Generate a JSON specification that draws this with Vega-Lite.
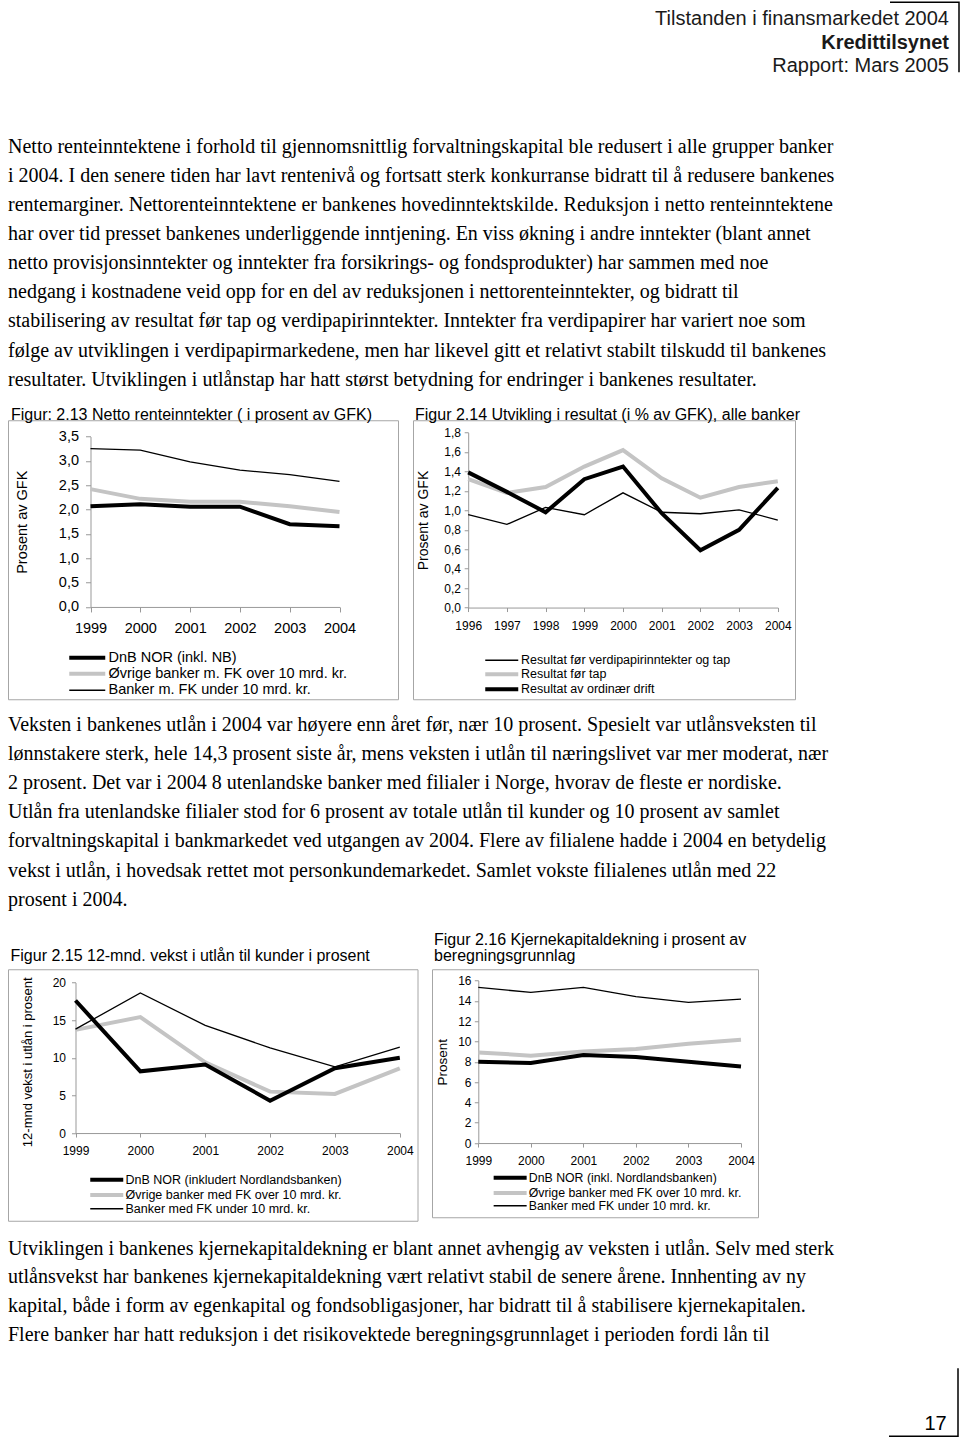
{
  "$schema": "https://vega.github.io/schema/vega-lite/v6.json",
  "padding": {"left": 7, "top": 1.25, "right": 0, "bottom": 0},
  "background": "white",
  "spacing": 0,
  "resolve": {"scale": {"color": "independent", "stroke": "independent"}},
  "datasets": {
    "f213": [
      {"year": "1999", "series": "Øvrige banker m. FK over 10 mrd. kr.", "value": 2.42},
      {"year": "2000", "series": "Øvrige banker m. FK over 10 mrd. kr.", "value": 2.22},
      {"year": "2001", "series": "Øvrige banker m. FK over 10 mrd. kr.", "value": 2.16},
      {"year": "2002", "series": "Øvrige banker m. FK over 10 mrd. kr.", "value": 2.16},
      {"year": "2003", "series": "Øvrige banker m. FK over 10 mrd. kr.", "value": 2.07},
      {"year": "2004", "series": "Øvrige banker m. FK over 10 mrd. kr.", "value": 1.95},
      {"year": "1999", "series": "Banker m. FK under 10 mrd. kr.", "value": 3.25},
      {"year": "2000", "series": "Banker m. FK under 10 mrd. kr.", "value": 3.22},
      {"year": "2001", "series": "Banker m. FK under 10 mrd. kr.", "value": 2.98},
      {"year": "2002", "series": "Banker m. FK under 10 mrd. kr.", "value": 2.81},
      {"year": "2003", "series": "Banker m. FK under 10 mrd. kr.", "value": 2.72},
      {"year": "2004", "series": "Banker m. FK under 10 mrd. kr.", "value": 2.58},
      {"year": "1999", "series": "DnB NOR (inkl. NB)", "value": 2.07},
      {"year": "2000", "series": "DnB NOR (inkl. NB)", "value": 2.11},
      {"year": "2001", "series": "DnB NOR (inkl. NB)", "value": 2.06},
      {"year": "2002", "series": "DnB NOR (inkl. NB)", "value": 2.06},
      {"year": "2003", "series": "DnB NOR (inkl. NB)", "value": 1.70},
      {"year": "2004", "series": "DnB NOR (inkl. NB)", "value": 1.66}
    ],
    "f214": [
      {"year": "1996", "series": "Resultat før tap", "value": 1.32},
      {"year": "1997", "series": "Resultat før tap", "value": 1.18},
      {"year": "1998", "series": "Resultat før tap", "value": 1.24},
      {"year": "1999", "series": "Resultat før tap", "value": 1.45},
      {"year": "2000", "series": "Resultat før tap", "value": 1.62},
      {"year": "2001", "series": "Resultat før tap", "value": 1.33},
      {"year": "2002", "series": "Resultat før tap", "value": 1.13},
      {"year": "2003", "series": "Resultat før tap", "value": 1.24},
      {"year": "2004", "series": "Resultat før tap", "value": 1.30},
      {"year": "1996", "series": "Resultat av ordinær drift", "value": 1.39},
      {"year": "1997", "series": "Resultat av ordinær drift", "value": 1.19},
      {"year": "1998", "series": "Resultat av ordinær drift", "value": 0.98},
      {"year": "1999", "series": "Resultat av ordinær drift", "value": 1.32},
      {"year": "2000", "series": "Resultat av ordinær drift", "value": 1.45},
      {"year": "2001", "series": "Resultat av ordinær drift", "value": 0.97},
      {"year": "2002", "series": "Resultat av ordinær drift", "value": 0.59},
      {"year": "2003", "series": "Resultat av ordinær drift", "value": 0.80},
      {"year": "2004", "series": "Resultat av ordinær drift", "value": 1.23},
      {"year": "1996", "series": "Resultat før verdipapirinntekter og tap", "value": 0.955},
      {"year": "1997", "series": "Resultat før verdipapirinntekter og tap", "value": 0.855},
      {"year": "1998", "series": "Resultat før verdipapirinntekter og tap", "value": 1.03},
      {"year": "1999", "series": "Resultat før verdipapirinntekter og tap", "value": 0.955},
      {"year": "2000", "series": "Resultat før verdipapirinntekter og tap", "value": 1.18},
      {"year": "2001", "series": "Resultat før verdipapirinntekter og tap", "value": 0.98},
      {"year": "2002", "series": "Resultat før verdipapirinntekter og tap", "value": 0.965},
      {"year": "2003", "series": "Resultat før verdipapirinntekter og tap", "value": 1.005},
      {"year": "2004", "series": "Resultat før verdipapirinntekter og tap", "value": 0.90}
    ],
    "f215": [
      {"year": "1999", "series": "Øvrige banker med FK over 10 mrd. kr.", "value": 13.7},
      {"year": "2000", "series": "Øvrige banker med FK over 10 mrd. kr.", "value": 15.4},
      {"year": "2001", "series": "Øvrige banker med FK over 10 mrd. kr.", "value": 9.4},
      {"year": "2002", "series": "Øvrige banker med FK over 10 mrd. kr.", "value": 5.5},
      {"year": "2003", "series": "Øvrige banker med FK over 10 mrd. kr.", "value": 5.2},
      {"year": "2004", "series": "Øvrige banker med FK over 10 mrd. kr.", "value": 8.6},
      {"year": "1999", "series": "DnB NOR (inkludert Nordlandsbanken)", "value": 17.6},
      {"year": "2000", "series": "DnB NOR (inkludert Nordlandsbanken)", "value": 8.2},
      {"year": "2001", "series": "DnB NOR (inkludert Nordlandsbanken)", "value": 9.1},
      {"year": "2002", "series": "DnB NOR (inkludert Nordlandsbanken)", "value": 4.3},
      {"year": "2003", "series": "DnB NOR (inkludert Nordlandsbanken)", "value": 8.6},
      {"year": "2004", "series": "DnB NOR (inkludert Nordlandsbanken)", "value": 10.0},
      {"year": "1999", "series": "Banker med FK under 10 mrd. kr.", "value": 13.8},
      {"year": "2000", "series": "Banker med FK under 10 mrd. kr.", "value": 18.6},
      {"year": "2001", "series": "Banker med FK under 10 mrd. kr.", "value": 14.3},
      {"year": "2002", "series": "Banker med FK under 10 mrd. kr.", "value": 11.3},
      {"year": "2003", "series": "Banker med FK under 10 mrd. kr.", "value": 8.8},
      {"year": "2004", "series": "Banker med FK under 10 mrd. kr.", "value": 11.4}
    ],
    "f216": [
      {"year": "1999", "series": "Øvrige banker med FK over 10 mrd. kr.", "value": 8.92},
      {"year": "2000", "series": "Øvrige banker med FK over 10 mrd. kr.", "value": 8.6},
      {"year": "2001", "series": "Øvrige banker med FK over 10 mrd. kr.", "value": 9.02},
      {"year": "2002", "series": "Øvrige banker med FK over 10 mrd. kr.", "value": 9.25},
      {"year": "2003", "series": "Øvrige banker med FK over 10 mrd. kr.", "value": 9.77},
      {"year": "2004", "series": "Øvrige banker med FK over 10 mrd. kr.", "value": 10.17},
      {"year": "1999", "series": "DnB NOR (inkl. Nordlandsbanken)", "value": 8.0},
      {"year": "2000", "series": "DnB NOR (inkl. Nordlandsbanken)", "value": 7.87},
      {"year": "2001", "series": "DnB NOR (inkl. Nordlandsbanken)", "value": 8.66},
      {"year": "2002", "series": "DnB NOR (inkl. Nordlandsbanken)", "value": 8.46},
      {"year": "2003", "series": "DnB NOR (inkl. Nordlandsbanken)", "value": 8.0},
      {"year": "2004", "series": "DnB NOR (inkl. Nordlandsbanken)", "value": 7.54},
      {"year": "1999", "series": "Banker med FK under 10 mrd. kr.", "value": 15.31},
      {"year": "2000", "series": "Banker med FK under 10 mrd. kr.", "value": 14.82},
      {"year": "2001", "series": "Banker med FK under 10 mrd. kr.", "value": 15.31},
      {"year": "2002", "series": "Banker med FK under 10 mrd. kr.", "value": 14.4},
      {"year": "2003", "series": "Banker med FK under 10 mrd. kr.", "value": 13.84},
      {"year": "2004", "series": "Banker med FK under 10 mrd. kr.", "value": 14.17}
    ]
  },
  "vconcat": [
    {
      "width": 951, "height": 78,
      "view": {"stroke": "#000000", "strokeWidth": 1.5, "strokeDash": [0, 882, 139, 1100]},
      "data": {"values": [
        {"line": 0, "text": "Tilstanden i finansmarkedet 2004"},
        {"line": 1, "text": "Kredittilsynet"},
        {"line": 2, "text": "Rapport: Mars 2005"}
      ]},
      "encoding": {
        "x": {"datum": 1, "type": "quantitative", "scale": {"domain": [0, 1], "nice": false, "zero": false}, "axis": null},
        "y": {"field": "line", "type": "quantitative", "scale": {"domain": [0, 1], "range": [23, 46.3], "nice": false, "zero": false}, "axis": null},
        "text": {"field": "text"}
      },
      "layer": [
        {"transform": [{"filter": "datum.line !== 1"}],
         "mark": {"type": "text", "align": "right", "baseline": "alphabetic", "font": "Liberation Sans", "fontSize": 20, "fontWeight": "normal", "color": "#1a1a1a", "dx": -10}},
        {"transform": [{"filter": "datum.line === 1"}],
         "mark": {"type": "text", "align": "right", "baseline": "alphabetic", "font": "Liberation Sans", "fontSize": 20, "fontWeight": "bold", "color": "#1a1a1a", "dx": -10}}
      ]
    },
    {
      "width": 900, "height": 324.75,
      "data": {"values": [
        {"line": 0, "text": "Netto renteinntektene i forhold til gjennomsnittlig forvaltningskapital ble redusert i alle grupper banker"},
        {"line": 1, "text": "i 2004. I den senere tiden har lavt rentenivå og fortsatt sterk konkurranse bidratt til å redusere bankenes"},
        {"line": 2, "text": "rentemarginer. Nettorenteinntektene er bankenes hovedinntektskilde. Reduksjon i netto renteinntektene"},
        {"line": 3, "text": "har over tid presset bankenes underliggende inntjening. En viss økning i andre inntekter (blant annet"},
        {"line": 4, "text": "netto provisjonsinntekter og inntekter fra forsikrings- og fondsprodukter) har sammen med noe"},
        {"line": 5, "text": "nedgang i kostnadene veid opp for en del av reduksjonen i nettorenteinntekter, og bidratt til"},
        {"line": 6, "text": "stabilisering av resultat før tap og verdipapirinntekter. Inntekter fra verdipapirer har variert noe som"},
        {"line": 7, "text": "følge av utviklingen i verdipapirmarkedene, men har likevel gitt et relativt stabilt tilskudd til bankenes"},
        {"line": 8, "text": "resultater. Utviklingen i utlånstap har hatt størst betydning for endringer i bankenes resultater."}
      ]},
      "mark": {"type": "text", "align": "left", "baseline": "alphabetic", "font": "Liberation Serif", "fontSize": 20, "color": "#000000"},
      "encoding": {
        "x": {"datum": 0, "type": "quantitative", "scale": {"domain": [0, 1], "nice": false, "zero": false}, "axis": null},
        "y": {"field": "line", "type": "quantitative", "scale": {"domain": [0, 1], "range": [71.55, 100.65], "nice": false, "zero": false}, "axis": null},
        "text": {"field": "text"}
      }
    },
    {
      "hconcat": [
        {
          "width": 390, "height": 279,
          "view": {"stroke": "#a6a6a6", "strokeWidth": 1},
          "title": {"text": "Figur: 2.13 Netto renteinntekter ( i prosent av GFK)", "offset": -3, "dx": 3},
          "data": {"name": "f213"},
          "encoding": {
            "x": {"field": "year", "type": "ordinal",
                  "scale": {"type": "point", "padding": 0, "range": [82.5, 331.5]},
                  "axis": {"title": null, "offset": -92.3, "labelAngle": 0, "tickSize": 5, "labelPadding": 20.5, "labelBaseline": "alphabetic", "labelFontSize": 14.5}},
            "y": {"field": "value", "type": "quantitative",
                  "scale": {"domain": [0, 3.5], "range": [186.7, 16.3], "nice": false, "zero": false},
                  "axis": {"title": "Prosent av GFK", "offset": -82.5, "values": [0, 0.5, 1, 1.5, 2, 2.5, 3, 3.5], "labelExpr": "replace(format(datum.value, '.1f'), '.', ',')", "tickSize": 5, "labelPadding": 7, "labelFontSize": 14.5, "titleFontSize": 14.5, "titleX": -68, "titleAngle": 270, "titleBaseline": "middle", "titleAlign": "center"}}
          },
          "layer": [
            {
              "transform": [{"filter": "datum.series !== 'Banker m. FK under 10 mrd. kr.'"}],
              "mark": {"type": "line", "strokeWidth": 4, "strokeJoin": "miter", "strokeCap": "butt"},
              "encoding": {
                "color": {"field": "series", "type": "nominal",
                          "scale": {"domain": ["DnB NOR (inkl. NB)", "Øvrige banker m. FK over 10 mrd. kr."], "range": ["#000000", "#c4c4c4"]},
                          "legend": {"title": null, "orient": "none", "legendX": 72, "legendY": 230.25, "direction": "vertical", "symbolType": "M-9,0H9", "symbolSize": 16, "symbolStrokeWidth": 4, "labelFontSize": 14.5, "labelOffset": 14, "rowPadding": -1.5}}
              }
            },
            {
              "transform": [{"filter": "datum.series === 'Banker m. FK under 10 mrd. kr.'"}],
              "mark": {"type": "line", "strokeWidth": 1.3, "strokeJoin": "miter", "strokeCap": "butt"},
              "encoding": {
                "stroke": {"field": "series", "type": "nominal",
                           "scale": {"domain": ["Banker m. FK under 10 mrd. kr."], "range": ["#000000"]},
                           "legend": {"title": null, "orient": "none", "legendX": 72, "legendY": 262.75, "direction": "vertical", "symbolType": "M-9,0H9", "symbolSize": 16, "symbolStrokeWidth": 1.3, "labelFontSize": 14.5, "labelOffset": 14}}
              }
            }
          ],
          "resolve": {"scale": {"color": "independent", "stroke": "independent"}}
        },
        {
          "width": 382, "height": 279,
          "view": {"stroke": "#a6a6a6", "strokeWidth": 1},
          "title": {"text": "Figur 2.14 Utvikling i resultat (i % av GFK), alle banker", "offset": -3, "dx": 2},
          "data": {"name": "f214"},
          "encoding": {
            "x": {"field": "year", "type": "ordinal",
                  "scale": {"type": "point", "padding": 0, "range": [55.2, 364.8]},
                  "axis": {"title": null, "offset": -91.7, "labelAngle": 0, "tickSize": 4, "labelPadding": 17.7, "labelBaseline": "alphabetic", "labelFontSize": 12}},
            "y": {"field": "value", "type": "quantitative",
                  "scale": {"domain": [0, 1.8], "range": [187.3, 12.3], "nice": false, "zero": false},
                  "axis": {"title": "Prosent av GFK", "offset": -55.2, "values": [0, 0.2, 0.4, 0.6, 0.8, 1, 1.2, 1.4, 1.6, 1.8], "labelExpr": "replace(format(datum.value, '.1f'), '.', ',')", "tickSize": 4, "labelPadding": 3.7, "labelFontSize": 12, "titleFontSize": 14, "titleX": -44.7, "titleAngle": 270, "titleBaseline": "middle", "titleAlign": "center"}}
          },
          "layer": [
            {
              "transform": [{"filter": "datum.series !== 'Resultat før verdipapirinntekter og tap'"}],
              "mark": {"type": "line", "strokeWidth": 4, "strokeJoin": "miter", "strokeCap": "butt"},
              "encoding": {
                "color": {"field": "series", "type": "nominal",
                          "scale": {"domain": ["Resultat før tap", "Resultat av ordinær drift"], "range": ["#c4c4c4", "#000000"]},
                          "legend": {"title": null, "orient": "none", "legendX": 82.5, "legendY": 247.75, "direction": "vertical", "symbolType": "M-8.25,0H8.25", "symbolSize": 16, "symbolStrokeWidth": 4, "labelFontSize": 12.5, "labelOffset": 13, "rowPadding": -4.5}}
              }
            },
            {
              "transform": [{"filter": "datum.series === 'Resultat før verdipapirinntekter og tap'"}],
              "mark": {"type": "line", "strokeWidth": 1.3, "strokeJoin": "miter", "strokeCap": "butt"},
              "encoding": {
                "stroke": {"field": "series", "type": "nominal",
                           "scale": {"domain": ["Resultat før verdipapirinntekter og tap"], "range": ["#000000"]},
                           "legend": {"title": null, "orient": "none", "legendX": 82.5, "legendY": 233.75, "direction": "vertical", "symbolType": "M-8.25,0H8.25", "symbolSize": 16, "symbolStrokeWidth": 1.3, "labelFontSize": 12.5, "labelOffset": 13}}
              }
            }
          ],
          "resolve": {"scale": {"color": "independent", "stroke": "independent"}}
        }
      ],
      "spacing": 13,
      "resolve": {"scale": {"color": "independent", "stroke": "independent"}}
    },
    {
      "width": 900, "height": 231,
      "data": {"values": [
        {"line": 0, "text": "Veksten i bankenes utlån i 2004 var høyere enn året før, nær 10 prosent. Spesielt var utlånsveksten til"},
        {"line": 1, "text": "lønnstakere sterk, hele 14,3 prosent siste år, mens veksten i utlån til næringslivet var mer moderat, nær"},
        {"line": 2, "text": "2 prosent. Det var i 2004 8 utenlandske banker med filialer i Norge, hvorav de fleste er nordiske."},
        {"line": 3, "text": "Utlån fra utenlandske filialer stod for 6 prosent av totale utlån til kunder og 10 prosent av samlet"},
        {"line": 4, "text": "forvaltningskapital i bankmarkedet ved utgangen av 2004. Flere av filialene hadde i 2004 en betydelig"},
        {"line": 5, "text": "vekst i utlån, i hovedsak rettet mot personkundemarkedet. Samlet vokste filialenes utlån med 22"},
        {"line": 6, "text": "prosent i 2004."}
      ]},
      "mark": {"type": "text", "align": "left", "baseline": "alphabetic", "font": "Liberation Serif", "fontSize": 20, "color": "#000000"},
      "encoding": {
        "x": {"datum": 0, "type": "quantitative", "scale": {"domain": [0, 1], "nice": false, "zero": false}, "axis": null},
        "y": {"field": "line", "type": "quantitative", "scale": {"domain": [0, 1], "range": [30.8, 59.9], "nice": false, "zero": false}, "axis": null},
        "text": {"field": "text"}
      }
    },
    {
      "hconcat": [
        {
          "width": 409.5, "height": 251.5,
          "view": {"stroke": "#a6a6a6", "strokeWidth": 1},
          "title": {"text": ["", "Figur 2.15 12-mnd. vekst i utlån til kunder i prosent"], "offset": 5, "dx": 2.5, "lineHeight": 16},
          "data": {"name": "f215"},
          "encoding": {
            "x": {"field": "year", "type": "ordinal",
                  "scale": {"type": "point", "padding": 0, "range": [67.5, 391.8]},
                  "axis": {"title": null, "offset": -87.7, "labelAngle": 0, "tickSize": 4, "labelPadding": 17.7, "labelBaseline": "alphabetic", "labelFontSize": 12}},
            "y": {"field": "value", "type": "quantitative",
                  "scale": {"domain": [0, 20], "range": [163.8, 13.2], "nice": false, "zero": false},
                  "axis": {"title": "12-mnd vekst i utlån i prosent", "offset": -67.5, "values": [0, 5, 10, 15, 20], "format": "d", "tickSize": 4, "labelPadding": 6, "labelFontSize": 12, "titleFontSize": 13, "titleX": -48, "titleY": 92.5, "titleAngle": 270, "titleBaseline": "middle", "titleAlign": "center"}}
          },
          "layer": [
            {
              "transform": [{"filter": "datum.series !== 'Banker med FK under 10 mrd. kr.'"}],
              "mark": {"type": "line", "strokeWidth": 4, "strokeJoin": "miter", "strokeCap": "butt"},
              "encoding": {
                "color": {"field": "series", "type": "nominal",
                          "scale": {"domain": ["DnB NOR (inkludert Nordlandsbanken)", "Øvrige banker med FK over 10 mrd. kr."], "range": ["#000000", "#c4c4c4"]},
                          "legend": {"title": null, "orient": "none", "legendX": 92.5, "legendY": 204.25, "direction": "vertical", "symbolType": "M-8.25,0H8.25", "symbolSize": 16, "symbolStrokeWidth": 4, "labelFontSize": 12.5, "labelOffset": 12.5, "rowPadding": -1.75}}
              }
            },
            {
              "transform": [{"filter": "datum.series === 'Banker med FK under 10 mrd. kr.'"}],
              "mark": {"type": "line", "strokeWidth": 1.3, "strokeJoin": "miter", "strokeCap": "butt"},
              "encoding": {
                "stroke": {"field": "series", "type": "nominal",
                           "scale": {"domain": ["Banker med FK under 10 mrd. kr."], "range": ["#000000"]},
                           "legend": {"title": null, "orient": "none", "legendX": 92.5, "legendY": 233.25, "direction": "vertical", "symbolType": "M-8.25,0H8.25", "symbolSize": 16, "symbolStrokeWidth": 1.3, "labelFontSize": 12.5, "labelOffset": 12.5}}
              }
            }
          ],
          "resolve": {"scale": {"color": "independent", "stroke": "independent"}}
        },
        {
          "width": 326, "height": 248,
          "view": {"stroke": "#a6a6a6", "strokeWidth": 1},
          "title": {"text": ["Figur 2.16 Kjernekapitaldekning i prosent av", "beregningsgrunnlag"], "offset": 5, "dx": 2, "lineHeight": 16},
          "data": {"name": "f216"},
          "encoding": {
            "x": {"field": "year", "type": "ordinal",
                  "scale": {"type": "point", "padding": 0, "range": [46.3, 309]},
                  "axis": {"title": null, "offset": -74.2, "labelAngle": 0, "tickSize": 4, "labelPadding": 17.7, "labelBaseline": "alphabetic", "labelFontSize": 12}},
            "y": {"field": "value", "type": "quantitative",
                  "scale": {"domain": [0, 16], "range": [173.8, 11.2], "nice": false, "zero": false},
                  "axis": {"title": "Prosent", "offset": -46.3, "values": [0, 2, 4, 6, 8, 10, 12, 14, 16], "format": "d", "tickSize": 4, "labelPadding": 3.3, "labelFontSize": 12, "titleFontSize": 13.5, "titleX": -35.6, "titleAngle": 270, "titleBaseline": "middle", "titleAlign": "center"}}
          },
          "layer": [
            {
              "transform": [{"filter": "datum.series !== 'Banker med FK under 10 mrd. kr.'"}],
              "mark": {"type": "line", "strokeWidth": 4, "strokeJoin": "miter", "strokeCap": "butt"},
              "encoding": {
                "color": {"field": "series", "type": "nominal",
                          "scale": {"domain": ["DnB NOR (inkl. Nordlandsbanken)", "Øvrige banker med FK over 10 mrd. kr."], "range": ["#000000", "#c4c4c4"]},
                          "legend": {"title": null, "orient": "none", "legendX": 72, "legendY": 202.35, "direction": "vertical", "symbolType": "M-8.25,0H8.25", "symbolSize": 16, "symbolStrokeWidth": 4, "labelFontSize": 12.3, "labelOffset": 12.5, "rowPadding": -1.75}}
              }
            },
            {
              "transform": [{"filter": "datum.series === 'Banker med FK under 10 mrd. kr.'"}],
              "mark": {"type": "line", "strokeWidth": 1.3, "strokeJoin": "miter", "strokeCap": "butt"},
              "encoding": {
                "stroke": {"field": "series", "type": "nominal",
                           "scale": {"domain": ["Banker med FK under 10 mrd. kr."], "range": ["#000000"]},
                           "legend": {"title": null, "orient": "none", "legendX": 72, "legendY": 230.35, "direction": "vertical", "symbolType": "M-8.25,0H8.25", "symbolSize": 16, "symbolStrokeWidth": 1.3, "labelFontSize": 12.3, "labelOffset": 12.5}}
              }
            }
          ],
          "resolve": {"scale": {"color": "independent", "stroke": "independent"}}
        }
      ],
      "spacing": 13,
      "resolve": {"scale": {"color": "independent", "stroke": "independent"}}
    },
    {
      "width": 900, "height": 145.75,
      "data": {"values": [
        {"line": 0, "text": "Utviklingen i bankenes kjernekapitaldekning er blant annet avhengig av veksten i utlån. Selv med sterk"},
        {"line": 1, "text": "utlånsvekst har bankenes kjernekapitaldekning vært relativt stabil de senere årene. Innhenting av ny"},
        {"line": 2, "text": "kapital, både i form av egenkapital og fondsobligasjoner, har bidratt til å stabilisere kjernekapitalen."},
        {"line": 3, "text": "Flere banker har hatt reduksjon i det risikovektede beregningsgrunnlaget i perioden fordi lån til"}
      ]},
      "mark": {"type": "text", "align": "left", "baseline": "alphabetic", "font": "Liberation Serif", "fontSize": 20, "color": "#000000"},
      "encoding": {
        "x": {"datum": 0, "type": "quantitative", "scale": {"domain": [0, 1], "nice": false, "zero": false}, "axis": null},
        "y": {"field": "line", "type": "quantitative", "scale": {"domain": [0, 1], "range": [33.5, 62.1], "nice": false, "zero": false}, "axis": null},
        "text": {"field": "text"}
      }
    },
    {
      "width": 950, "height": 68,
      "view": {"stroke": "#000000", "strokeWidth": 1.5, "strokeDash": [0, 950, 137, 1100]},
      "data": {"values": [{"line": 0, "text": "17"}]},
      "mark": {"type": "text", "align": "right", "baseline": "alphabetic", "font": "Liberation Sans", "fontSize": 20, "color": "#000000", "dx": -11.3},
      "encoding": {
        "x": {"datum": 1, "type": "quantitative", "scale": {"domain": [0, 1], "nice": false, "zero": false}, "axis": null},
        "y": {"field": "line", "type": "quantitative", "scale": {"domain": [0, 1], "range": [61.3, 90], "nice": false, "zero": false}, "axis": null},
        "text": {"field": "text"}
      }
    }
  ],
  "config": {
    "view": {"stroke": null},
    "axis": {"grid": false, "domainColor": "#999999", "tickColor": "#999999", "labelColor": "#000000", "labelFont": "Liberation Sans", "titleFont": "Liberation Sans", "titleFontWeight": "normal", "titleColor": "#000000", "domainWidth": 1, "tickWidth": 1},
    "title": {"font": "Liberation Sans", "fontSize": 16, "fontWeight": "normal", "color": "#000000", "anchor": "start", "frame": "group"},
    "legend": {"labelFont": "Liberation Sans", "labelColor": "#000000", "padding": 0, "labelLimit": 400}
  }
}
